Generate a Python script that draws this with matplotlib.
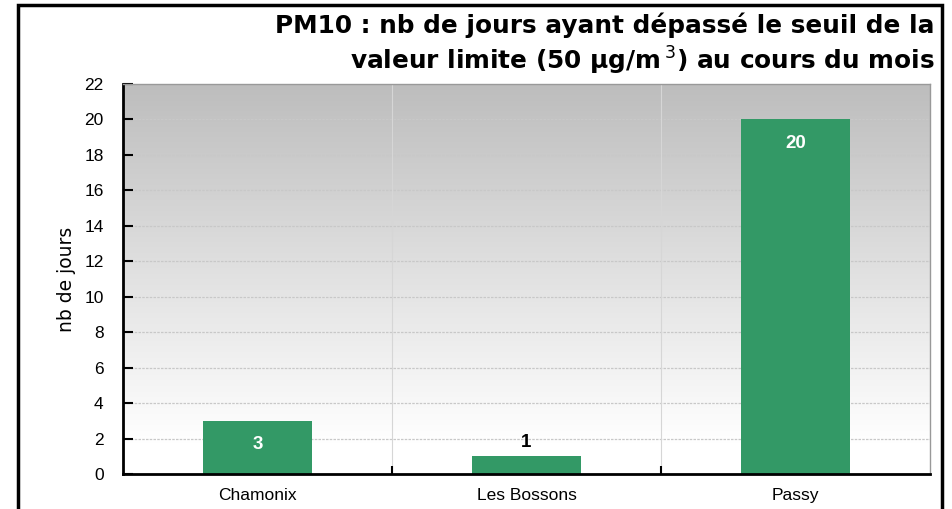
import matplotlib
matplotlib.use("Agg")
import matplotlib.pyplot as plt
import numpy as np
from matplotlib.patches import Rectangle
from matplotlib.colors import LinearSegmentedColormap

categories = ["Chamonix", "Les Bossons", "Passy"]
values = [3, 1, 20]
yticks = list(range(0, 23, 2))

plt.rcParams['font.family'] = ['Liberation Sans', 'DejaVu Sans']
plt.rcParams['mathtext.fontset'] = 'dejavusans'

fig = plt.figure(figsize=(9.53, 5.09), dpi=100)
fig.patch.set_facecolor('white')

# outer frame
fig.add_artist(Rectangle((18/953, -0.05), (942-18)/953, 1.05 - 5/509, transform=fig.transFigure,
                         fill=False, edgecolor='black', linewidth=2.5))

ax = fig.add_axes([123/953, 1-474/509, (930-123)/953, (474-84)/509])
x = np.arange(len(categories))
ax.set_xlim(-0.5, len(categories)-0.5)
ax.set_ylim(0, 22)

# gradient background
grad = np.linspace(0, 1, 256).reshape(-1, 1)
cmap = LinearSegmentedColormap.from_list(
    'g', [(0.0, '#ffffff'), (0.08, '#ffffff'), (0.5, '#e2e2e2'), (1.0, '#bdbdbd')], N=256)
ax.imshow(grad, extent=[-0.5, len(categories)-0.5, 0, 22], origin='lower', aspect='auto',
          cmap=cmap, zorder=0)

for yv in yticks[1:-1]:
    ax.axhline(yv, color='#c8c8c8', linestyle=(0, (2, 1)), linewidth=0.9, zorder=1)
for xv in [0.5, 1.5]:
    ax.axvline(xv, color='#d6d6d6', linewidth=0.8, zorder=1)

bars = ax.bar(x, values, width=0.405, color='#339966', zorder=2)

for xi, v in zip(x, values):
    if v >= 2:
        ax.text(xi, v - 1.35, str(v), ha='center', va='center', color='white',
                fontsize=13.5, fontweight='bold', zorder=3)
    else:
        ax.text(xi, v + 0.8, str(v), ha='center', va='center', color='black',
                fontsize=13.5, fontweight='bold', zorder=3)

ax.set_xticks([0.5, 1.5], minor=False)
ax.set_xticklabels([])
ax.tick_params(axis='x', direction='in', length=6, width=1.5, colors='black')
for xi, c in zip(x, categories):
    ax.text(xi, -0.035, c, transform=ax.get_xaxis_transform(), ha='center', va='top', fontsize=12.5)

ax.set_yticks(yticks)
ax.set_yticklabels([str(t) for t in yticks], fontsize=12.5)
ax.tick_params(axis='y', direction='in', length=7, width=1.5, pad=14)
ax.set_ylabel("nb de jours", fontsize=13.5, labelpad=6, family='DejaVu Sans')

ax.spines['left'].set_linewidth(2)
ax.spines['bottom'].set_linewidth(2)
for s in ['top', 'right']:
    ax.spines[s].set_color('#999999')
    ax.spines[s].set_linestyle((0, (1, 1)))
    ax.spines[s].set_linewidth(1)

fig.text(935/953, 1-25/509, "PM10 : nb de jours ayant dépassé le seuil de la",
         ha='right', va='center', fontsize=17.8, fontweight='bold', family='DejaVu Sans')
fig.text(935/953, 1-61/509, r"valeur limite (50 µg/m$\,^{3}$) au cours du mois",
         ha='right', va='center', fontsize=17.8, fontweight='bold', family='DejaVu Sans')

fig.savefig("out.png", dpi=100)
